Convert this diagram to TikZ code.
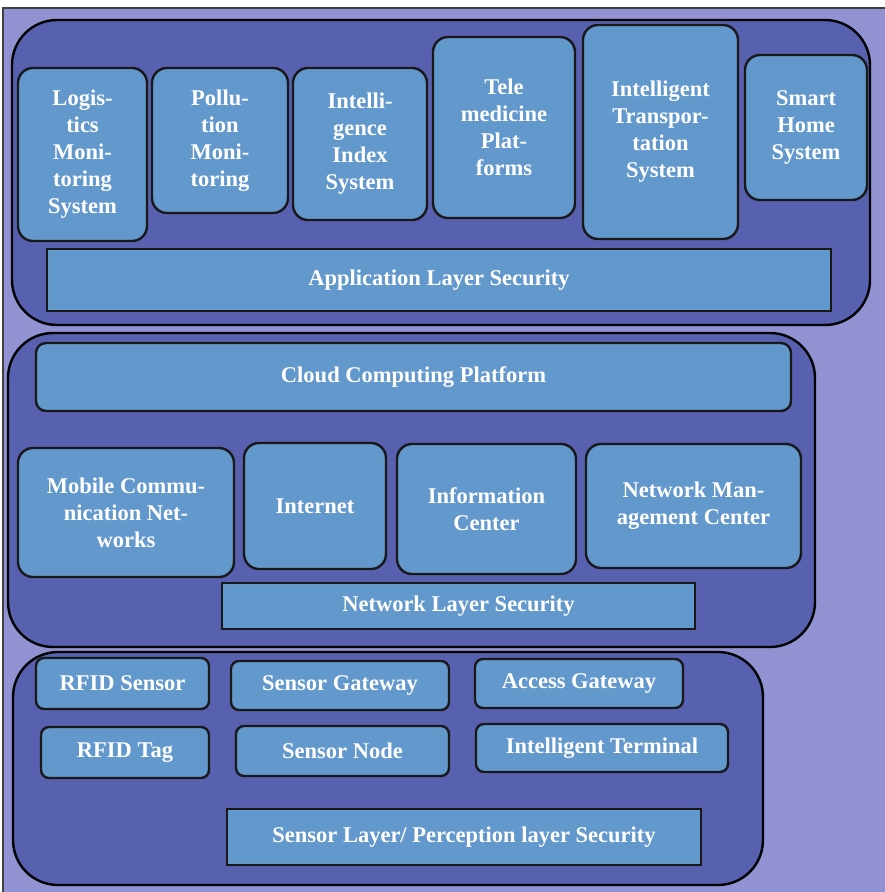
\documentclass[tikz,border=0pt]{standalone}
\usepackage{fontspec}
\setmainfont{Liberation Serif}
\definecolor{bglav}{RGB}{146,146,210}
\definecolor{layerfill}{RGB}{88,96,176}
\definecolor{boxfill}{RGB}{98,152,204}
\begin{document}
\begin{tikzpicture}[x=1pt,y=-1pt,
  layer/.style={draw=black, line width=2.4pt, fill=layerfill, rounded corners=45pt, inner sep=0pt, outer sep=0pt},
  bigbox/.style={draw=black!90, line width=2.4pt, fill=boxfill, rounded corners=15pt, inner sep=0pt, outer sep=0pt,
     text=white, align=center, font=\fontsize{22.5}{27}\selectfont\bfseries},
  smallbox/.style={bigbox, rounded corners=8pt},
  secbox/.style={bigbox, rounded corners=0pt}]
\useasboundingbox (0,0) rectangle (885,892);
\fill[white] (0,0) rectangle (885,892);
\draw[fill=bglav, draw=black!75, line width=1.6pt] (3,8) rectangle (886,896);
% layers
\node[layer, minimum width=858pt, minimum height=305pt] (appl) at (441,172.5) {};
\node[layer, minimum width=807pt, minimum height=314pt] (netl) at (411.5,490) {};
\node[layer, minimum width=750pt, minimum height=233pt] (senl) at (388,768.5) {};
% application layer
\node[bigbox, minimum width=129pt, minimum height=173pt] (log) at (82.5,154.5) {Logis-\\tics\\Moni-\\toring\\System};
\node[bigbox, minimum width=136pt, minimum height=145pt] (pol) at (220,140.5) {Pollu-\\tion\\Moni-\\toring};
\node[bigbox, minimum width=134pt, minimum height=152pt] (iis) at (360,144) {Intelli-\\gence\\Index\\System};
\node[bigbox, minimum width=142pt, minimum height=181pt] (tel) at (504,127.5) {Tele\\medicine\\Plat-\\forms};
\node[bigbox, minimum width=155pt, minimum height=214pt] (its) at (660.5,132) {Intelligent\\Transpor-\\tation\\System};
\node[bigbox, minimum width=122pt, minimum height=145pt] (shs) at (806,127.5) {Smart\\Home\\System};
\node[secbox, minimum width=784pt, minimum height=62pt] (als) at (439,280) {Application Layer Security};
% network layer
\node[bigbox, rounded corners=10pt, minimum width=755pt, minimum height=68pt] (cloud) at (413.5,377) {Cloud Computing Platform};
\node[bigbox, minimum width=216pt, minimum height=129pt] (mob) at (126,512.5) {Mobile Commu-\\nication Net-\\works};
\node[bigbox, minimum width=142pt, minimum height=126pt] (inet) at (315,506) {Internet};
\node[bigbox, minimum width=179pt, minimum height=130pt] (inf) at (486.5,509) {Information\\Center};
\node[bigbox, minimum width=215pt, minimum height=124pt] (nmc) at (693.5,506) {Network Man-\\agement Center};
\node[secbox, minimum width=473pt, minimum height=46pt] (nls) at (458.5,606) {Network Layer Security};
% sensor layer
\node[smallbox, minimum width=173pt, minimum height=51pt] (rfs) at (122.5,683.5) {RFID Sensor};
\node[smallbox, minimum width=218pt, minimum height=49pt] (sgw) at (340,685.5) {Sensor Gateway};
\node[smallbox, minimum width=208pt, minimum height=49pt] (agw) at (579,683.5) {Access Gateway};
\node[smallbox, minimum width=168pt, minimum height=51pt] (rft) at (125,752.5) {RFID Tag};
\node[smallbox, minimum width=213pt, minimum height=50pt] (snd) at (342.5,751) {Sensor Node};
\node[smallbox, minimum width=252pt, minimum height=48pt] (itm) at (602,748) {Intelligent Terminal};
\node[secbox, minimum width=474pt, minimum height=56pt] (sls) at (464,837) {Sensor Layer/ Perception layer Security};
\end{tikzpicture}
\end{document}
